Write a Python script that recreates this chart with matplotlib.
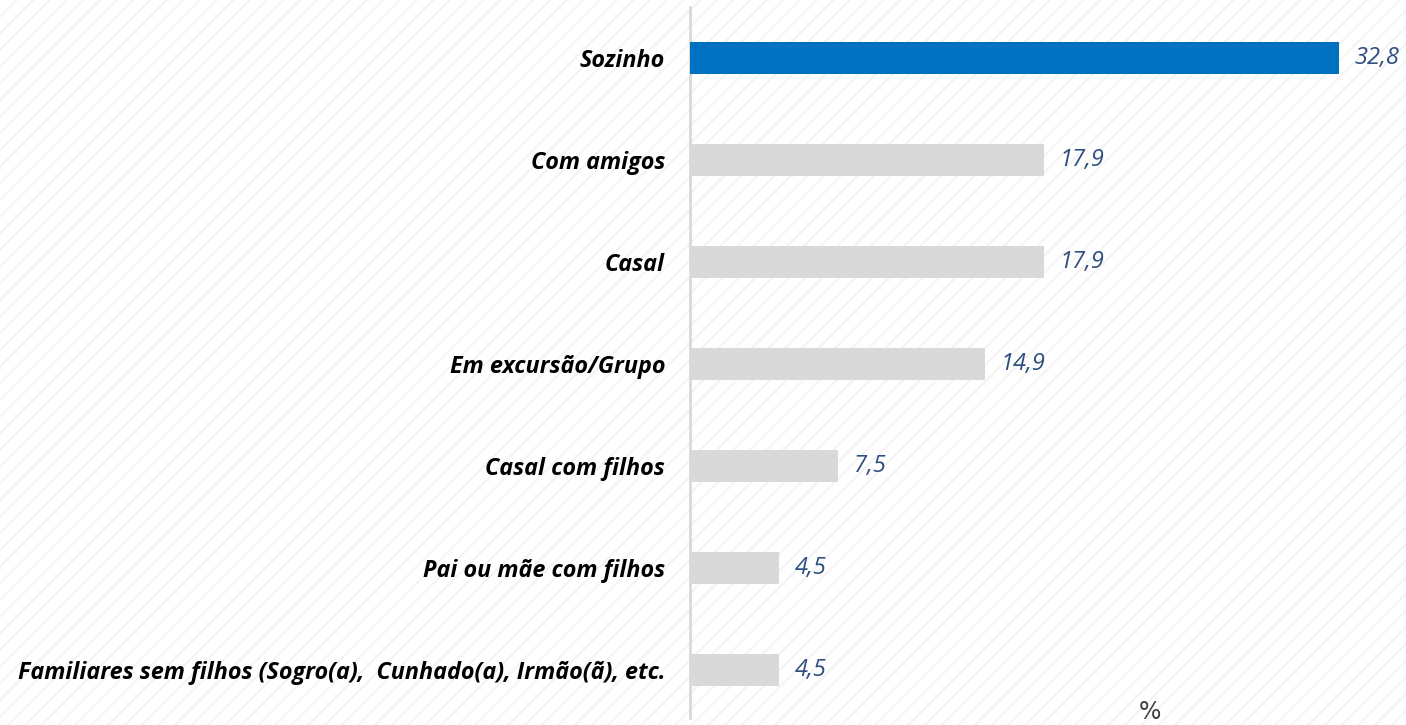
import matplotlib
matplotlib.use("Agg")
import matplotlib.pyplot as plt
from matplotlib.patches import Rectangle

categories = [
    "Sozinho",
    "Com amigos",
    "Casal",
    "Em excursão/Grupo",
    "Casal com filhos",
    "Pai ou mãe com filhos",
    "Familiares sem filhos (Sogro(a),  Cunhado(a), Irmão(ã), etc.",
]
values = [32.8, 17.9, 17.9, 14.9, 7.5, 4.5, 4.5]
highlight = "Sozinho"

BLUE = "#0070C0"
GRAY = "#D9D9D9"
VALUE_COLOR = "#2F4F7F"

plt.rcParams["hatch.linewidth"] = 1.6
plt.rcParams["hatch.color"] = "#F4F4F4"

fig = plt.figure(figsize=(14.06, 7.25), dpi=100)
fig.patches.append(Rectangle((0, 0), 1, 1, transform=fig.transFigure,
                             facecolor="white", edgecolor="#F4F4F4",
                             hatch="//", linewidth=0, zorder=-10))

ax = fig.add_axes([690 / 1406, 7 / 725, 716 / 1406, 711 / 725])
ax.set_facecolor("none")

ypos = list(range(len(categories)))
colors = [BLUE if c == highlight else GRAY for c in categories]
ax.barh(ypos, values, height=0.31, color=colors, zorder=3)

for y, v in zip(ypos, values):
    ax.text(v + 0.8, y, f"{v:.1f}".replace(".", ","), va="center", ha="left",
            fontsize=17, style="italic", color=VALUE_COLOR, family="Open Sans")

ax.set_xlim(0, 36.2)
ax.set_ylim(6.47, -0.5)
ax.set_yticks(ypos)
ax.set_yticklabels(categories, fontsize=16.8, fontweight="bold", style="italic",
                   family="Open Sans")
ax.tick_params(axis="y", length=0, pad=18)
ax.set_xticks([])
for side in ["top", "right", "bottom"]:
    ax.spines[side].set_visible(False)
ax.spines["left"].set_color(GRAY)
ax.spines["left"].set_linewidth(2)

fig.text(1150 / 1406, 1 - 712 / 725, "%", ha="center", va="center",
         fontsize=17, color="#404040")

fig.savefig("out.png", dpi=100)
